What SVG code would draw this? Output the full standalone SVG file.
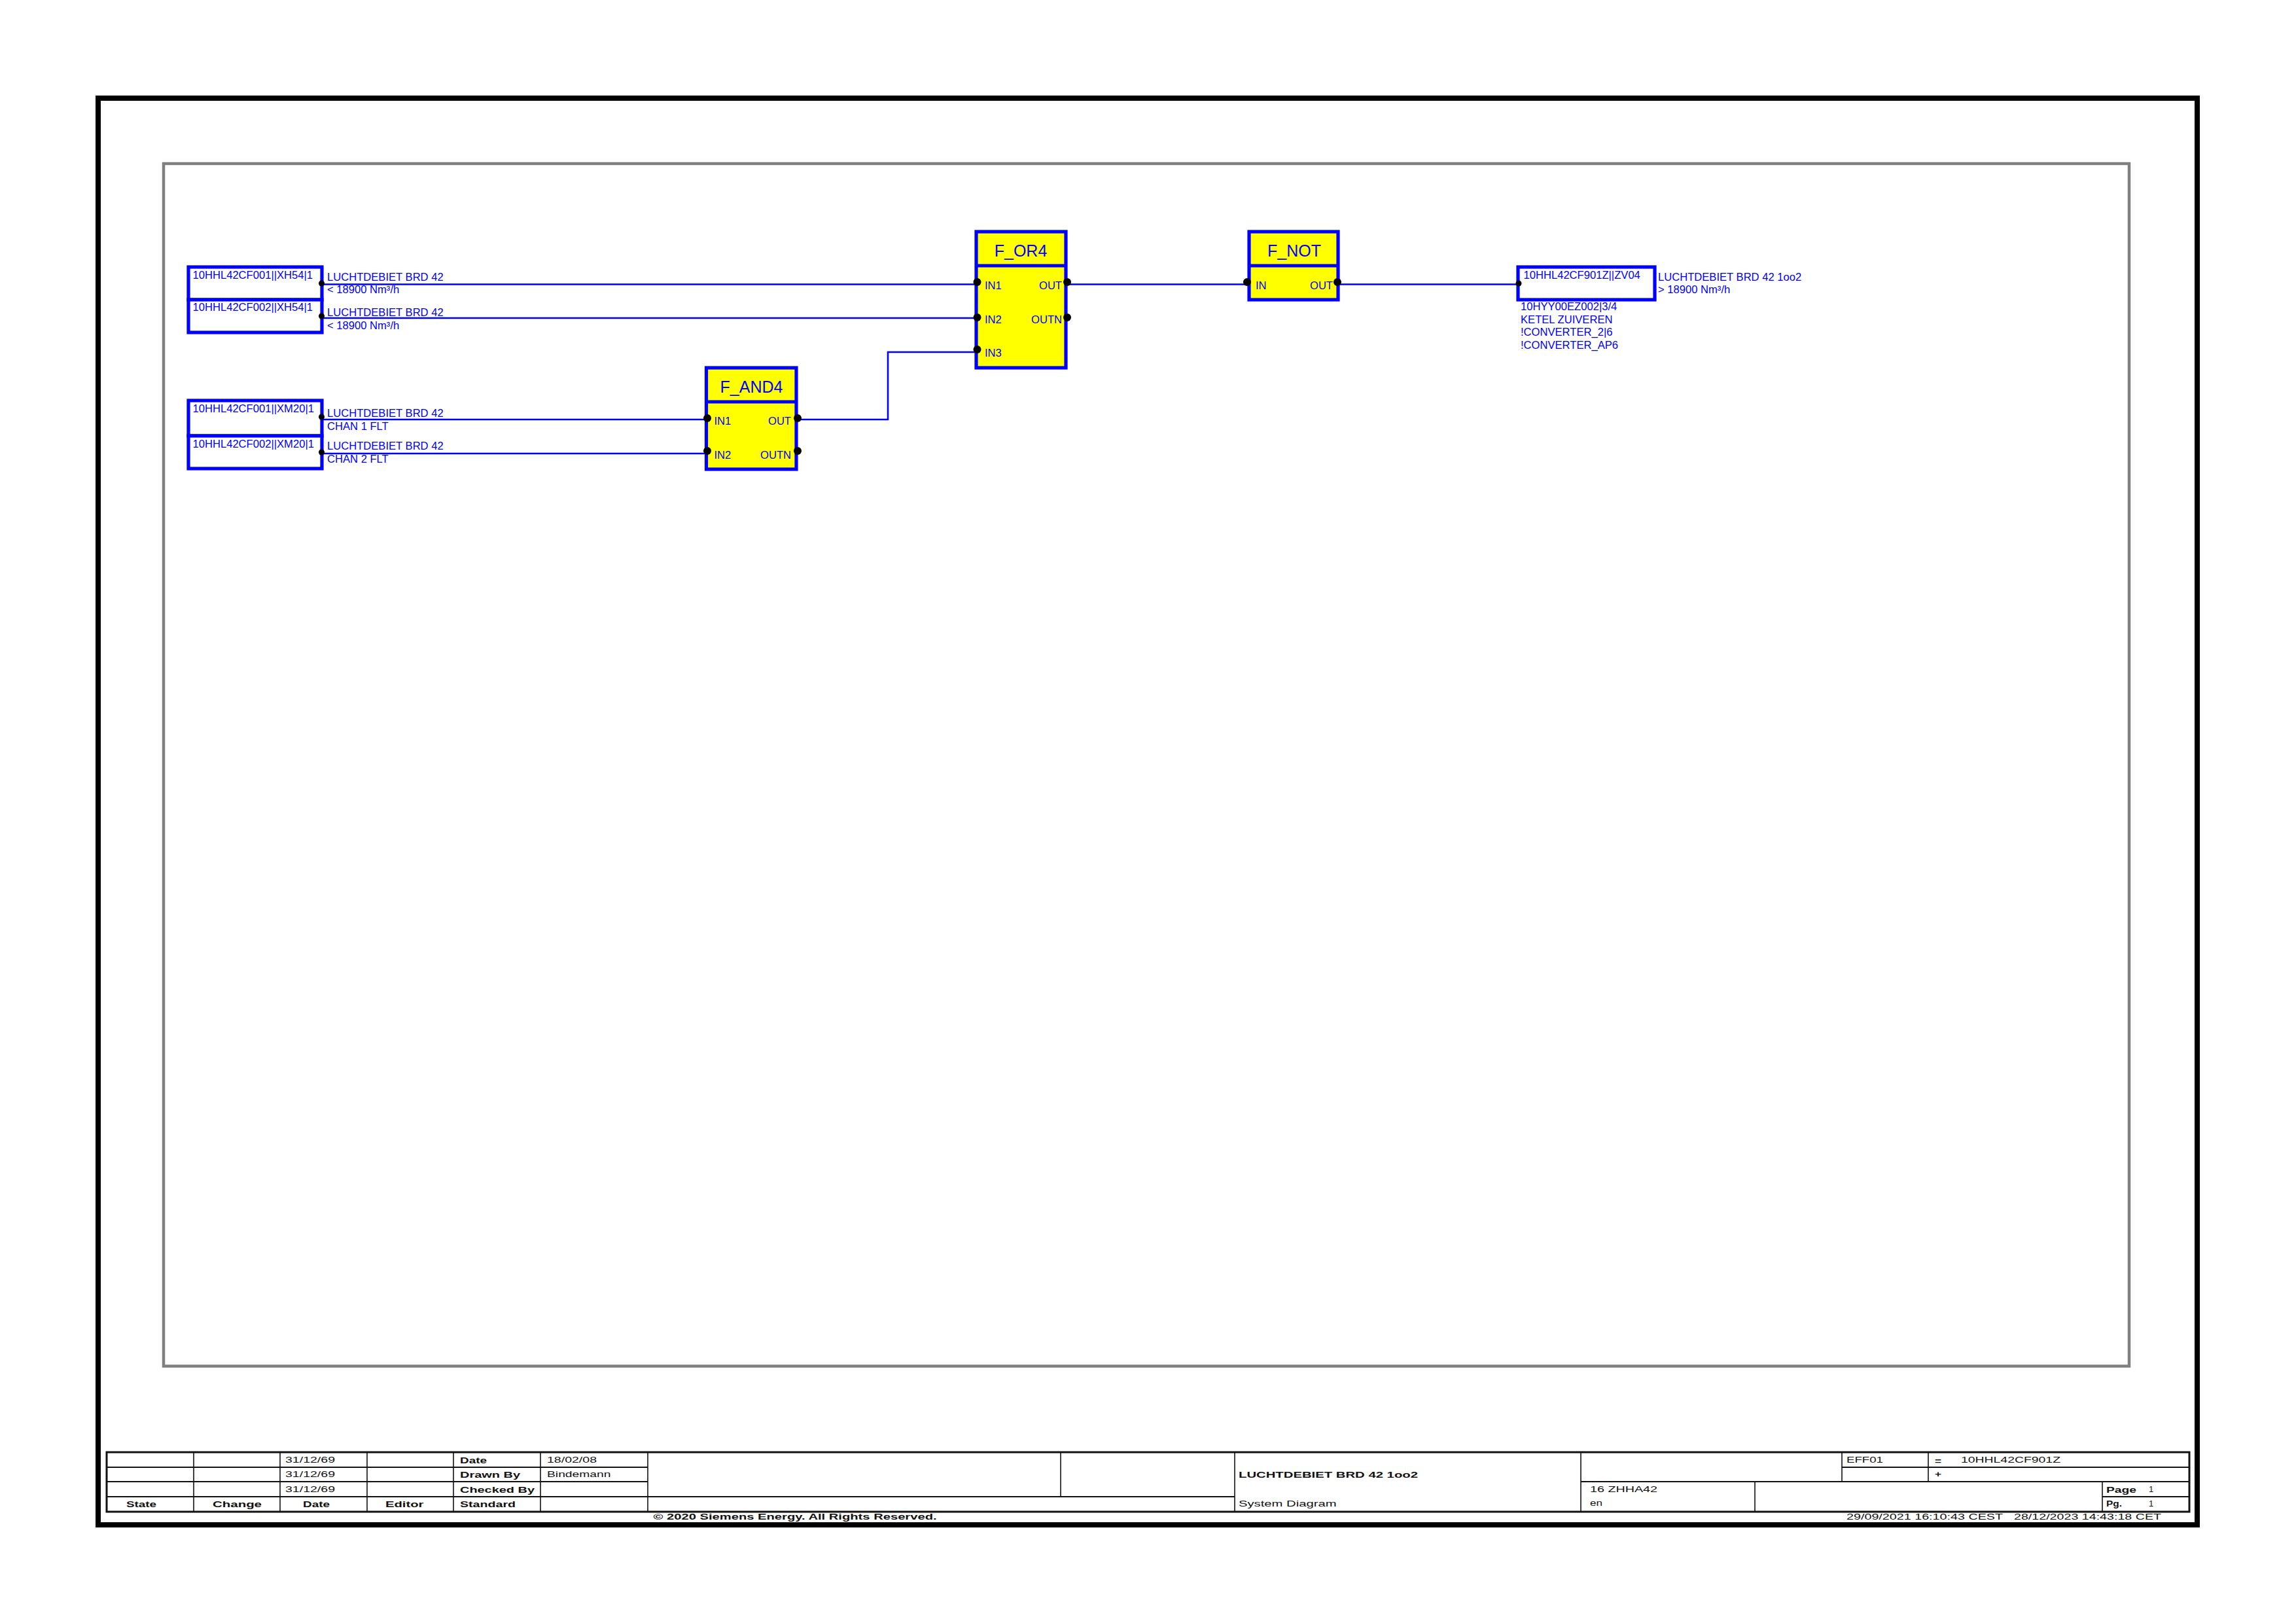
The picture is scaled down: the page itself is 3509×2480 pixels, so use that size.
<svg xmlns="http://www.w3.org/2000/svg" width="3509" height="2480" viewBox="0 0 3509 2480">
<style>
text{font-family:"Liberation Sans",Arial,sans-serif}
.b{fill:#00f;font-size:16.6px}
.h{fill:#00f;font-size:25px;text-anchor:middle}
.e{text-anchor:end}
.t{fill:#111;font-size:13px}
.tb{fill:#111;font-size:13px;font-weight:bold}
.box{fill:#fff;stroke:#00f;stroke-width:5.2}
.fb{fill:#ff0;stroke:#00f;stroke-width:5.2}
.wire{fill:none;stroke:#00f;stroke-width:2.6}
.g{fill:none;stroke:#111;stroke-width:2.2}
.v{fill:none;stroke:#111;stroke-width:1.6}
.g2{fill:none;stroke:#111;stroke-width:3}
.d{fill:#000}
</style>
<rect width="3509" height="2480" fill="#fff"/>
<g id="frame">
<rect x="150" y="150" width="3208" height="2180" fill="none" stroke="#000" stroke-width="8"/>
<rect x="250" y="250" width="3004" height="1837.500" fill="none" stroke="#808080" stroke-width="4.500"/>
</g>
<g id="connectors">
<path class="wire" d="M492 434.500H1492"/>
<path class="wire" d="M492 486H1492"/>
<path class="wire" d="M492 641H1080"/>
<path class="wire" d="M492 693H1080"/>
<path class="wire" d="M1217 641H1357V538H1492"/>
<path class="wire" d="M1629 434.500H1909"/>
<path class="wire" d="M2045 434.500H2320"/>
</g>
<g id="in1"><rect class="box" x="288" y="408" width="204" height="50"/><text class="b" x="294.500" y="426">10HHL42CF001||XH54|1</text><circle class="d" cx="491.500" cy="433" r="4.500"/><text class="b" x="500" y="429">LUCHTDEBIET BRD 42</text><text class="b" x="500" y="448">&lt; 18900 Nm³/h</text></g>
<g id="in2"><rect class="box" x="288" y="458" width="204" height="50"/><text class="b" x="294.500" y="475">10HHL42CF002||XH54|1</text><circle class="d" cx="491.500" cy="483" r="4.500"/><text class="b" x="500" y="483">LUCHTDEBIET BRD 42</text><text class="b" x="500" y="503">&lt; 18900 Nm³/h</text></g>
<g id="in3"><rect class="box" x="288" y="612" width="204" height="54"/><text class="b" x="294.500" y="630">10HHL42CF001||XM20|1</text><circle class="d" cx="491.500" cy="637" r="4.500"/><text class="b" x="500" y="637">LUCHTDEBIET BRD 42</text><text class="b" x="500" y="657">CHAN 1 FLT</text></g>
<g id="in4"><rect class="box" x="288" y="666" width="204" height="50"/><text class="b" x="294.500" y="684">10HHL42CF002||XM20|1</text><circle class="d" cx="491.500" cy="691" r="4.500"/><text class="b" x="500" y="687">LUCHTDEBIET BRD 42</text><text class="b" x="500" y="707">CHAN 2 FLT</text></g>
<g id="f_and4"><rect class="fb" x="1079.500" y="562" width="137.500" height="155"/><path class="box" d="M1079.500 614H1217"/><text class="h" x="1148.500" y="600">F_AND4</text><text class="b" x="1091.500" y="649">IN1</text><text class="b e" x="1209" y="649">OUT</text><text class="b" x="1091.500" y="701">IN2</text><text class="b e" x="1209" y="701">OUTN</text><circle class="d" cx="1081" cy="639" r="6"/><circle class="d" cx="1081" cy="689" r="6"/><circle class="d" cx="1219" cy="639" r="6"/><circle class="d" cx="1219" cy="689" r="6"/></g>
<g id="f_or4"><rect class="fb" x="1492" y="354" width="137" height="208"/><path class="box" d="M1492 406H1629"/><text class="h" x="1560" y="392">F_OR4</text><text class="b" x="1505" y="442">IN1</text><text class="b e" x="1623" y="442">OUT</text><text class="b" x="1505" y="494">IN2</text><text class="b e" x="1623" y="494">OUTN</text><text class="b" x="1505" y="545">IN3</text><circle class="d" cx="1493.500" cy="431" r="6"/><circle class="d" cx="1493.500" cy="485" r="6"/><circle class="d" cx="1493.500" cy="534" r="6"/><circle class="d" cx="1631" cy="431" r="6"/><circle class="d" cx="1631" cy="485" r="6"/></g>
<g id="f_not"><rect class="fb" x="1909" y="354" width="136" height="104"/><path class="box" d="M1909 406H2045"/><text class="h" x="1978" y="392">F_NOT</text><text class="b" x="1919" y="442">IN</text><text class="b e" x="2037" y="442">OUT</text><circle class="d" cx="1906" cy="431" r="6"/><circle class="d" cx="2044" cy="431" r="6"/></g>
<g id="out1"><rect class="box" x="2320" y="408" width="209" height="50"/><text class="b" x="2328.500" y="426">10HHL42CF901Z||ZV04</text><circle class="d" cx="2321" cy="433" r="4.500"/><text class="b" x="2534" y="429">LUCHTDEBIET BRD 42 1oo2</text><text class="b" x="2534" y="448">&gt; 18900 Nm³/h</text><text class="b" x="2324" y="474">10HYY00EZ002|3/4</text><text class="b" x="2324" y="494">KETEL ZUIVEREN</text><text class="b" x="2324" y="513">!CONVERTER_2|6</text><text class="b" x="2324" y="533">!CONVERTER_AP6</text></g>
<g id="titleblock">
<rect class="g2" x="163" y="2219" width="3183" height="91"/>
<path class="g" d="M163 2242H990M163 2264H990M163 2287H1887M2815 2242H3346M2416 2264H3346M3213 2287H3346"/>
<path class="v" d="M296 2219V2310M428 2219V2310M561 2219V2310M693 2219V2310M826 2219V2310M990 2219V2310M1621 2219V2287M1887 2219V2310M2416 2219V2310M2815 2219V2264M2947 2219V2264M2682 2264V2310M3213 2264V2310"/>
<text class="t" x="436" y="2235" textLength="76" lengthAdjust="spacingAndGlyphs">31/12/69</text>
<text class="t" x="436" y="2257" textLength="76" lengthAdjust="spacingAndGlyphs">31/12/69</text>
<text class="t" x="436" y="2280" textLength="76" lengthAdjust="spacingAndGlyphs">31/12/69</text>
<text class="tb" x="703" y="2236" textLength="41" lengthAdjust="spacingAndGlyphs">Date</text>
<text class="tb" x="703" y="2258" textLength="92" lengthAdjust="spacingAndGlyphs">Drawn By</text>
<text class="tb" x="703" y="2281" textLength="114" lengthAdjust="spacingAndGlyphs">Checked By</text>
<text class="tb" x="703" y="2303" textLength="85" lengthAdjust="spacingAndGlyphs">Standard</text>
<text class="tb" x="193" y="2303" textLength="46" lengthAdjust="spacingAndGlyphs">State</text>
<text class="tb" x="325" y="2303" textLength="75" lengthAdjust="spacingAndGlyphs">Change</text>
<text class="tb" x="463" y="2303" textLength="41" lengthAdjust="spacingAndGlyphs">Date</text>
<text class="tb" x="589" y="2303" textLength="58.500" lengthAdjust="spacingAndGlyphs">Editor</text>
<text class="t" x="836" y="2235" textLength="76" lengthAdjust="spacingAndGlyphs">18/02/08</text>
<text class="t" x="836" y="2257" textLength="97.500" lengthAdjust="spacingAndGlyphs">Bindemann</text>
<text class="tb" x="1893" y="2258" textLength="274" lengthAdjust="spacingAndGlyphs">LUCHTDEBIET BRD 42 1oo2</text>
<text class="t" x="1893" y="2302" textLength="149.500" lengthAdjust="spacingAndGlyphs">System Diagram</text>
<text class="tb" x="998.600" y="2322" textLength="433" lengthAdjust="spacingAndGlyphs">© 2020 Siemens Energy. All Rights Reserved.</text>
<text class="t" x="2822" y="2235" textLength="56" lengthAdjust="spacingAndGlyphs">EFF01</text>
<text class="tb" x="2957" y="2237" textLength="10" lengthAdjust="spacingAndGlyphs">=</text>
<text class="t" x="2997" y="2235" textLength="152" lengthAdjust="spacingAndGlyphs">10HHL42CF901Z</text>
<text class="tb" x="2957" y="2257" textLength="10" lengthAdjust="spacingAndGlyphs">+</text>
<text class="t" x="2430" y="2280" textLength="103" lengthAdjust="spacingAndGlyphs">16 ZHHA42</text>
<text class="t" x="2430" y="2301" textLength="19" lengthAdjust="spacingAndGlyphs">en</text>
<text class="tb" x="3219" y="2281" textLength="46" lengthAdjust="spacingAndGlyphs">Page</text>
<text class="t" x="3284" y="2280">1</text>
<text class="tb" x="3219" y="2302" textLength="24" lengthAdjust="spacingAndGlyphs">Pg.</text>
<text class="t" x="3284" y="2302">1</text>
<text class="t" x="2822" y="2322" textLength="239" lengthAdjust="spacingAndGlyphs">29/09/2021 16:10:43 CEST</text>
<text class="t" x="3078" y="2322" textLength="225" lengthAdjust="spacingAndGlyphs">28/12/2023 14:43:18 CET</text>
</g>
</svg>
